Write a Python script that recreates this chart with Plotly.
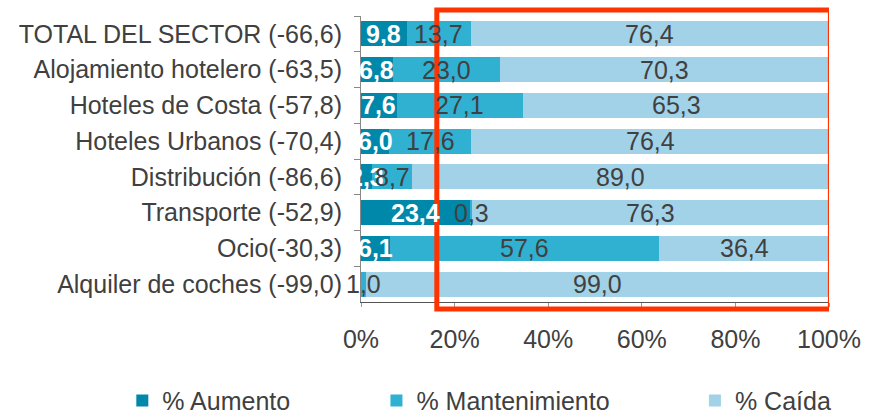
import numpy as np
import plotly.graph_objects as go

categories = [
    "TOTAL DEL SECTOR (-66,6)",
    "Alojamiento hotelero (-63,5)",
    "Hoteles de Costa (-57,8)",
    "Hoteles Urbanos (-70,4)",
    "Distribución (-86,6)",
    "Transporte (-52,9)",
    "Ocio(-30,3)",
    "Alquiler de coches (-99,0)",
]
aumento = [9.8, 6.8, 7.6, 6.0, 2.3, 23.4, 6.1, 0.0]
mantenimiento = [13.7, 23.0, 27.1, 17.6, 8.7, 0.3, 57.6, 1.0]
caida = [76.4, 70.3, 65.3, 76.4, 89.0, 76.3, 36.4, 99.0]
series_names = ["% Aumento", "% Mantenimiento", "% Caída"]
x_ticks = [0, 20, 40, 60, 80, 100]
x_tick_labels = ["0%", "20%", "40%", "60%", "80%", "100%"]

colors = ["#0088AA", "#31B1D2", "#A2D2E7"]
FONT = "Liberation Sans, Arial, sans-serif"
TXT = "#404040"
FS = 25

fig = go.Figure()
series = [aumento, mantenimiento, caida]
legend_ids = ["legend", "legend2", "legend3"]
for name, vals, col, lg in zip(series_names, series, colors, legend_ids):
    fig.add_trace(go.Bar(
        y=categories, x=vals, name=name, orientation="h",
        marker=dict(color=col, line=dict(width=0)),
        legend=lg, hoverinfo="x+name",
    ))

# data labels
starts = np.cumsum([[0] * len(categories)] + series[:-1], axis=0)
annotations = []
for si, vals in enumerate(series):
    for ci, v in enumerate(vals):
        if v <= 0:
            continue
        white = si == 0
        annotations.append(dict(
            x=starts[si][ci] + v / 2, y=categories[ci], xref="x", yref="y",
            text=("<b>%s</b>" if white else "%s") % f"{v:.1f}".replace(".", ","),
            showarrow=False,
            font=dict(family=FONT, size=FS, color="white" if white else TXT),
            xanchor="center", yanchor="middle",
        ))

leg = dict(yanchor="middle", xanchor="left", orientation="h", maxheight=1,
           font=dict(family=FONT, size=FS, color=TXT), bgcolor="rgba(0,0,0,0)")

fig.update_layout(
    width=881, height=413,
    margin=dict(l=361, r=52, t=16, b=111, autoexpand=False),
    paper_bgcolor="white", plot_bgcolor="white",
    barmode="stack", bargap=0.3,
    font=dict(family=FONT, size=FS, color=TXT),
    annotations=annotations,
    showlegend=True,
    legend=dict(x=-0.51, y=-0.345, **leg),
    legend2=dict(x=0.033, y=-0.345, **leg),
    legend3=dict(x=0.7135, y=-0.345, **leg),
    xaxis=dict(
        range=[0, 100], tickvals=x_ticks, ticktext=x_tick_labels,
        showgrid=False, zeroline=False, automargin=False,
        showline=True, linecolor="#555555", linewidth=1,
        ticks="outside", ticklen=4, tickcolor="#999999",
        tickfont=dict(family=FONT, size=FS, color=TXT),
        ticklabelstandoff=11,
    ),
    yaxis=dict(
        autorange="reversed", showgrid=False, zeroline=False, automargin=False,
        showline=True, linecolor="#888888", linewidth=1,
        ticks="outside", tickson="boundaries", ticklen=6, tickcolor="#888888",
        tickfont=dict(family=FONT, size=FS, color=TXT),
        ticklabelstandoff=13,
    ),
    shapes=[dict(
        type="rect", xref="x", yref="paper",
        x0=16.2, x1=100.3, y0=-0.0245, y1=1.021,
        line=dict(color="#FF3300", width=5), fillcolor="rgba(0,0,0,0)",
        layer="above",
    )],
)

fig.write_html(
    "out.html",
    config={"displayModeBar": False},
    post_script="document.body.style.margin='0';document.body.style.overflow='hidden';",
)
